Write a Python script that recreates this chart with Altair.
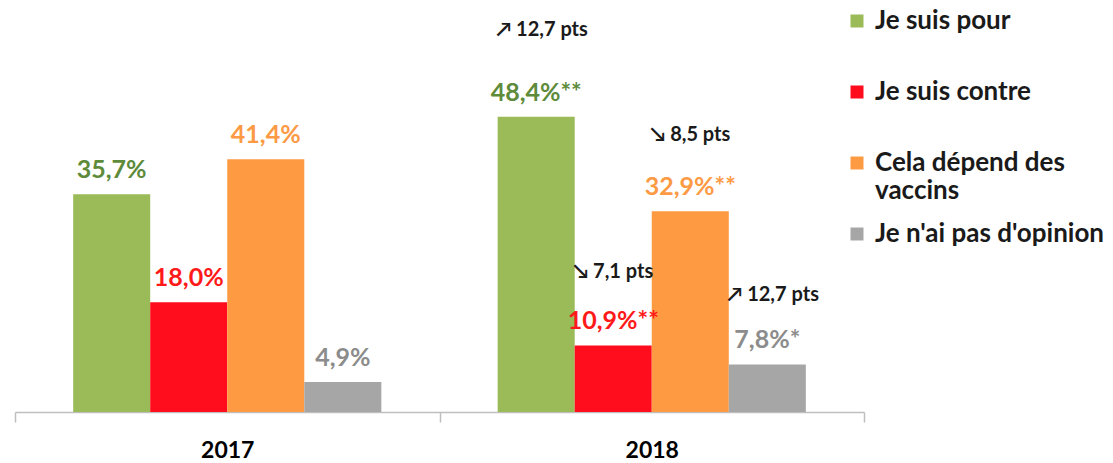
import altair as alt
import pandas as pd

years = ["2017", "2018"]
series = ["Je suis pour", "Je suis contre", "Cela dépend des vaccins", "Je n'ai pas d'opinion"]
values_2017 = [35.7, 18.0, 41.4, 4.9]
values_2018 = [48.4, 10.9, 32.9, 7.8]
stars_2017 = ["", "", "", ""]
stars_2018 = ["**", "**", "**", "*"]

bar_colors = ["#9bbb59", "#ff0d1d", "#fd9a42", "#a6a6a6"]
label_colors = ["#5e8b3a", "#ff1a1a", "#fc9a45", "#8c8c8c"]

# annotations (2018 evolution vs 2017), placed next to each 2018 bar
ann_series = series
ann_text = ["↗ 12,7 pts", "↘ 7,1 pts", "↘ 8,5 pts", "↗ 12,7 pts"]
ann_level = [62.6, 23.0, 45.4, 19.2]

rows = []
for year, vals, stars in [("2017", values_2017, stars_2017), ("2018", values_2018, stars_2018)]:
    for s, v, st in zip(series, vals, stars):
        rows.append({"year": year, "series": s, "value": v,
                     "label": f"{v:.1f}".replace(".", ",") + "%" + st})
df = pd.DataFrame(rows)

ann_df = pd.DataFrame({"year": ["2018"] * 4, "series": ann_series,
                       "value": ann_level, "text": ann_text})

FONT = "Lato, DejaVu Sans"

x_enc = alt.X("year:N", sort=years,
              scale=alt.Scale(paddingInner=0, paddingOuter=0),
              axis=alt.Axis(title=None, labelAngle=0, tickBand="extent",
                            tickSize=10, tickColor="#bfbfbf", tickWidth=1.5,
                            domainColor="#bfbfbf", domainWidth=1.5,
                            labelFont="Lato", labelFontSize=23, labelFontWeight="bold",
                            labelColor="#000000", labelPadding=17, grid=False))
xo_enc = alt.XOffset("series:N", sort=series,
                     scale=alt.Scale(domain=series, paddingOuter=0.755, paddingInner=0))
y_enc = alt.Y("value:Q", scale=alt.Scale(domain=[0, 66.2]), axis=None)

bars = alt.Chart(df).mark_bar().encode(
    x=x_enc, xOffset=xo_enc, y=y_enc,
    color=alt.Color("series:N", sort=series,
                    scale=alt.Scale(domain=series, range=bar_colors),
                    legend=alt.Legend(
                        title=None, orient="none", legendX=829, legendY=0,
                        symbolType="square", symbolSize=169, symbolStrokeWidth=0,
                        labelFont="Lato", labelFontSize=26, labelFontWeight="bold",
                        labelColor="#1a1a1a", labelLimit=400, labelOffset=5,
                        rowPadding=17, gridAlign="all", padding=0,
                        labelExpr="datum.label == 'Cela dépend des vaccins' ? ['Cela dépend des', 'vaccins'] : datum.label",
                    )),
)

labels = alt.Chart(df).mark_text(
    baseline="alphabetic", dy=-16, font="Lato", fontSize=25, fontWeight="bold"
).encode(
    x=x_enc, xOffset=xo_enc, y=y_enc, text="label:N",
    color=alt.Color("series:N", sort=series,
                    scale=alt.Scale(domain=series, range=label_colors), legend=None),
)

notes = alt.Chart(ann_df).mark_text(
    align="left", baseline="middle", dx=-40, font=FONT, fontSize=20,
    fontWeight="bold", color="#1a1a1a"
).encode(x=x_enc, xOffset=xo_enc, y=y_enc, text="text:N")

chart = alt.layer(bars, labels, notes).resolve_scale(color="independent").properties(
    width=849, height=404,
    padding={"left": 6, "top": 0, "right": 0, "bottom": 0},
).configure_view(stroke=None)

chart.save("out.html", embed_options={"renderer": "svg", "actions": False})
